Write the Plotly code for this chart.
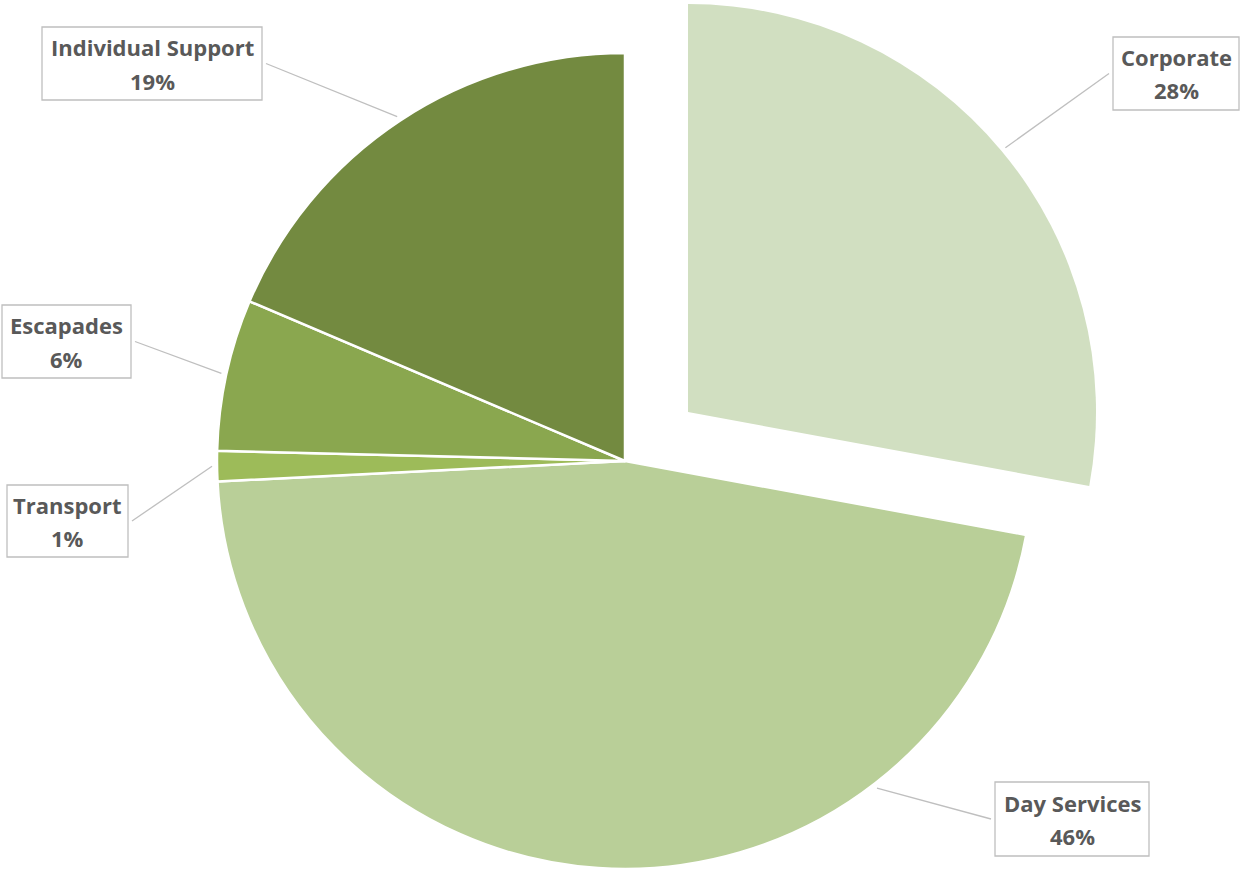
import math
import plotly.graph_objects as go

# ---- data ----
categories = ["Corporate", "Day Services", "Transport", "Escapades", "Individual Support"]
values = [27.9, 46.3, 1.2, 6.0, 18.6]
colors = ["#D1DFC1", "#B9CF98", "#9DBB59", "#8AA74F", "#738A40"]
pulled = "Corporate"

# ---- layout constants (pixels) ----
W, H = 1247, 876
CX, CY, R = 625, 461, 408          # pie centre and radius
PULL_DX, PULL_DY = 63, -49         # offset of the exploded slice
# label boxes: centre x, centre y, width, height, side (-1 left of pie, +1 right)
boxes = {
    "Corporate":          (1176, 73.5, 126, 73, +1),
    "Day Services":       (1072, 819, 154, 74, +1),
    "Transport":          (67.5, 521, 121, 72, -1),
    "Escapades":          (66.5, 341.5, 129, 73, -1),
    "Individual Support": (152, 63.5, 220, 73, -1),
}
leader_angle_override = {"Day Services": 142.4}

def px(x):
    return x / W

def py(y):
    return 1 - y / H

def domain(cx, cy):
    return dict(x=[px(cx - R), px(cx + R)], y=[py(cy + R), py(cy - R)])

fig = go.Figure()

# main pie (exploded slice hidden)
fig.add_trace(go.Pie(
    labels=categories, values=values, sort=False, direction="clockwise", rotation=0,
    marker=dict(colors=[("rgba(0,0,0,0)" if c == pulled else col) for c, col in zip(categories, colors)],
                line=dict(color="white", width=[0 if c == pulled else 2.5 for c in categories])),
    textinfo="none", hoverinfo="label+percent", showlegend=False,
    domain=domain(CX, CY),
))
# exploded slice
fig.add_trace(go.Pie(
    labels=categories, values=values, sort=False, direction="clockwise", rotation=0,
    marker=dict(colors=[(col if c == pulled else "rgba(0,0,0,0)") for c, col in zip(categories, colors)],
                line=dict(color="white", width=0)),
    textinfo="none", hoverinfo="skip", showlegend=False,
    domain=domain(CX + PULL_DX, CY + PULL_DY),
))

total = sum(values)
cum = 0.0
shapes, annotations = [], []
font_name = dict(family="Open Sans, Segoe UI, sans-serif", size=22, color="#595959")
for cat, v in zip(categories, values):
    mid = (cum + v / 2) / total * 360
    cum += v
    ang = leader_angle_override.get(cat, mid)
    cx, cy = (CX + PULL_DX, CY + PULL_DY) if cat == pulled else (CX, CY)
    tipx = cx + (R + 5) * math.sin(math.radians(ang))
    tipy = cy - (R + 5) * math.cos(math.radians(ang))
    bx, by, bw, bh, side = boxes[cat]
    tailx = bx - side * (bw / 2 + 4)
    taily = by
    shapes.append(dict(type="line", xref="paper", yref="paper",
                       x0=px(tailx), y0=py(taily), x1=px(tipx), y1=py(tipy),
                       line=dict(color="#BFBFBF", width=1.3)))
    shapes.append(dict(type="rect", xref="paper", yref="paper",
                       x0=px(bx - bw / 2), x1=px(bx + bw / 2), y0=py(by + bh / 2), y1=py(by - bh / 2),
                       line=dict(color="#BFBFBF", width=1.3), fillcolor="white", layer="above"))
    pct = f"{int(v / total * 100 + 0.5)}%"
    annotations.append(dict(xref="paper", yref="paper", x=px(bx), y=py(by - 16.5),
                            text=f"<b>{cat}</b>", showarrow=False, font=font_name,
                            xanchor="center", yanchor="middle"))
    annotations.append(dict(xref="paper", yref="paper", x=px(bx), y=py(by + 17),
                            text=f"<b>{pct}</b>", showarrow=False, font=font_name,
                            xanchor="center", yanchor="middle"))

fig.update_layout(
    width=W, height=H,
    margin=dict(l=0, r=0, t=0, b=0),
    paper_bgcolor="white", plot_bgcolor="white",
    shapes=shapes, annotations=annotations,
)

fig.write_html("out.html", config={"displayModeBar": False},
               post_script="document.body.style.margin='0px';")
